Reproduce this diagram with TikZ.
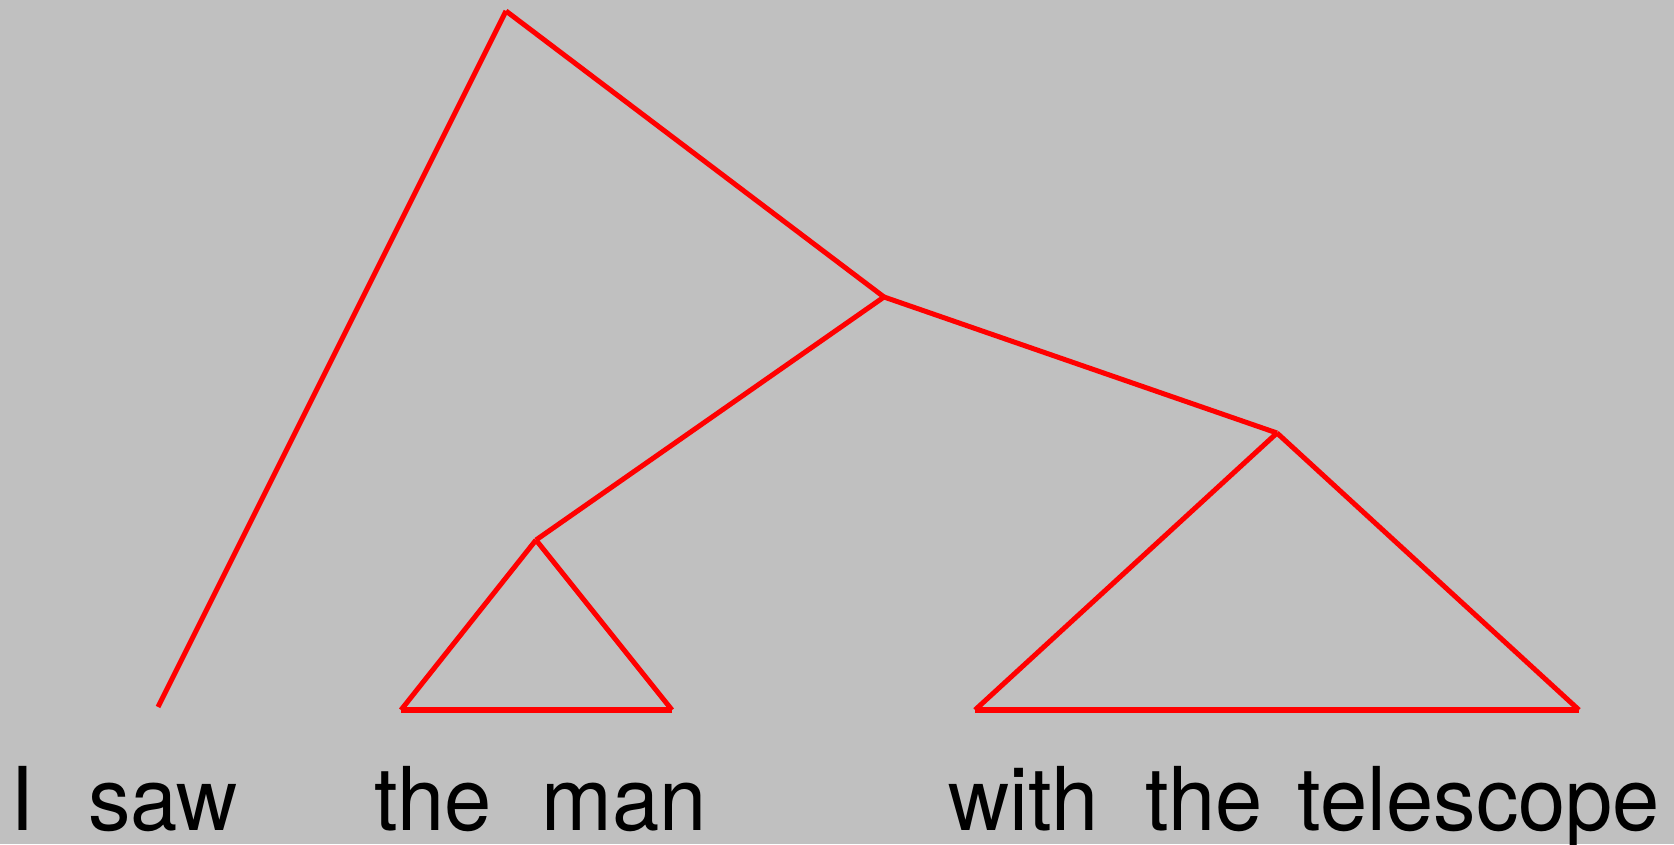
\documentclass[tikz,border=0pt]{standalone}
\usepackage{fontspec}
\setmainfont{TeX Gyre Heros}
\definecolor{bg}{HTML}{C0C0C0}
\newcommand\narrowtext[1]{\scalebox{0.965}[1]{#1}}
\begin{document}
\begin{tikzpicture}[x=1pt,y=1pt,
  edge/.style={draw=red,line width=5pt},
  baseedge/.style={draw=red,line width=6pt},
  word/.style={anchor=base,inner sep=0pt,font=\fontsize{88}{88}\selectfont}]
\fill[bg] (0,0) rectangle (1674,844);
\useasboundingbox (0,0) rectangle (1674,844);
% tree nodes (y = 844 - image y)
\coordinate (S)  at (506,833);
\coordinate (VP) at (884,547);
\coordinate (PP) at (1277,411);
\coordinate (NP) at (536,304);
\coordinate (V)  at (158,137);
\coordinate (NPl) at (401,134);
\coordinate (NPr) at (672,134);
\coordinate (PPl) at (975,134);
\coordinate (PPr) at (1579,134);
% words
\node[word] (w1) at (22.5,14) {\narrowtext{I}};
\node[word] (w2) at (163,14) {\narrowtext{saw}};
\node[word] (w3) at (433,14) {\narrowtext{the}};
\node[word] (w4) at (624,14) {\narrowtext{man}};
\node[word] (w5) at (1023.5,14) {\narrowtext{with}};
\node[word] (w6) at (1204,14) {\narrowtext{the}};
\node[word] (w7) at (1479,14) {\narrowtext{telescope}};
% edges
\draw[edge] (S) -- (V);
\draw[edge] (S) -- (VP);
\draw[edge] (VP) -- (NP);
\draw[edge] (VP) -- (PP);
\draw[edge] (NP) -- (NPl);
\draw[edge] (NP) -- (NPr);
\draw[baseedge] (NPl) -- (NPr);
\draw[edge] (PP) -- (PPl);
\draw[edge] (PP) -- (PPr);
\draw[baseedge] (PPl) -- (PPr);
\end{tikzpicture}
\end{document}
